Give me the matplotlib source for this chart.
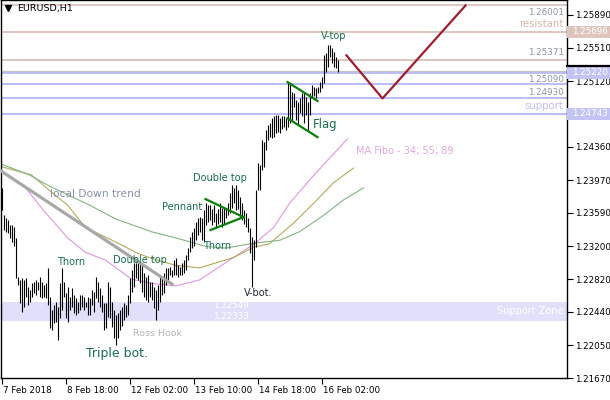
import matplotlib
matplotlib.use('Agg')
import matplotlib.pyplot as plt
from matplotlib.patches import Rectangle
from matplotlib.transforms import blended_transform_factory, ScaledTranslation

plt.rcParams['font.family'] = ['DejaVu Sans']

# hourly bars (high / low)
highs = [
    1.2388, 1.2356, 1.2353, 1.2351, 1.2345, 1.2345, 1.2342, 1.2330, 1.2284, 1.2281,
    1.2283, 1.2281, 1.2283, 1.2273, 1.2269, 1.2277, 1.2279, 1.2281, 1.2279, 1.2284,
    1.2279, 1.2275, 1.2277, 1.2295, 1.2261, 1.2246, 1.2252, 1.2255, 1.2249, 1.2277,
    1.2295, 1.2279, 1.2266, 1.2273, 1.2261, 1.2272, 1.2263, 1.2260, 1.2255, 1.2263,
    1.2263, 1.2261, 1.2255, 1.2261, 1.2260, 1.2269, 1.2267, 1.2284, 1.2279, 1.2272,
    1.2263, 1.2254, 1.2254, 1.2279, 1.2273, 1.2255, 1.2246, 1.2240, 1.2242, 1.2246,
    1.2249, 1.2254, 1.2252, 1.2263, 1.2283, 1.2292, 1.2301, 1.2301, 1.2302, 1.2301,
    1.2298, 1.2289, 1.2284, 1.2287, 1.2279, 1.2279, 1.2273, 1.2269, 1.2275, 1.2287,
    1.2284, 1.2289, 1.2295, 1.2295, 1.2296, 1.2292, 1.2304, 1.2306, 1.2298, 1.2296,
    1.2301, 1.2304, 1.2310, 1.2318, 1.2331, 1.2337, 1.2341, 1.2348, 1.2353, 1.2354,
    1.2353, 1.2362, 1.2370, 1.2368, 1.2368, 1.2364, 1.2368, 1.2359, 1.2364, 1.2370,
    1.2365, 1.2365, 1.2364, 1.2371, 1.2382, 1.2391, 1.2388, 1.2391, 1.2385, 1.2377,
    1.2370, 1.2362, 1.2359, 1.2353, 1.2341, 1.2331, 1.2327, 1.2385, 1.2417, 1.2415,
    1.2444, 1.2441, 1.2455, 1.2461, 1.2464, 1.2469, 1.2471, 1.2473, 1.2473, 1.2469,
    1.2471, 1.2471, 1.2469, 1.2511, 1.2510, 1.2499, 1.2498, 1.2490, 1.2488, 1.2492,
    1.2498, 1.2499, 1.2494, 1.2488, 1.2498, 1.2508, 1.2505, 1.2504, 1.2505, 1.2511,
    1.2517, 1.2542, 1.2545, 1.2554, 1.2554, 1.2551, 1.2546, 1.2540, 1.2537]
lows = [
    1.2362, 1.2339, 1.2337, 1.2335, 1.2330, 1.2325, 1.2321, 1.2283, 1.2275, 1.2254,
    1.2244, 1.2249, 1.2261, 1.2252, 1.2255, 1.2261, 1.2266, 1.2263, 1.2269, 1.2261,
    1.2260, 1.2261, 1.2260, 1.2252, 1.2225, 1.2223, 1.2231, 1.2232, 1.2211, 1.2237,
    1.2246, 1.2261, 1.2237, 1.2232, 1.2246, 1.2249, 1.2242, 1.2240, 1.2242, 1.2246,
    1.2249, 1.2246, 1.2249, 1.2240, 1.2240, 1.2252, 1.2244, 1.2260, 1.2255, 1.2249,
    1.2244, 1.2223, 1.2225, 1.2238, 1.2237, 1.2226, 1.2213, 1.2205, 1.2214, 1.2223,
    1.2228, 1.2234, 1.2238, 1.2240, 1.2254, 1.2267, 1.2273, 1.2283, 1.2281, 1.2277,
    1.2267, 1.2261, 1.2258, 1.2255, 1.2261, 1.2258, 1.2248, 1.2234, 1.2246, 1.2255,
    1.2263, 1.2266, 1.2275, 1.2279, 1.2287, 1.2284, 1.2287, 1.2287, 1.2284, 1.2287,
    1.2287, 1.2289, 1.2292, 1.2304, 1.2313, 1.2318, 1.2321, 1.2327, 1.2333, 1.2337,
    1.2327, 1.2325, 1.2345, 1.2348, 1.2351, 1.2345, 1.2348, 1.2342, 1.2346, 1.2348,
    1.2342, 1.2346, 1.2353, 1.2356, 1.2359, 1.2365, 1.2370, 1.2362, 1.2364, 1.2354,
    1.2351, 1.2346, 1.2342, 1.2337, 1.2312, 1.2273, 1.2304, 1.2319, 1.2385, 1.2385,
    1.2409, 1.2412, 1.2432, 1.2444, 1.2447, 1.2446, 1.2447, 1.2452, 1.2453, 1.2452,
    1.2457, 1.2459, 1.2455, 1.2459, 1.2463, 1.2467, 1.2482, 1.2467, 1.2461, 1.2475,
    1.2471, 1.2464, 1.2473, 1.2455, 1.2473, 1.2494, 1.2495, 1.2492, 1.2498, 1.2499,
    1.2504, 1.2510, 1.2523, 1.2528, 1.2540, 1.2533, 1.2528, 1.2527, 1.2523]

x_ticks = [0, 32, 64, 96, 128, 160]
x_labels = ['7 Feb 2018', '8 Feb 18:00', '12 Feb 02:00',
            '13 Feb 10:00', '14 Feb 18:00', '16 Feb 02:00']
y_ticks = [1.25890, 1.25510, 1.25120, 1.24360, 1.23970, 1.23590,
           1.23200, 1.22820, 1.22440, 1.22050, 1.21670]

# moving averages (34, 55, 89), sampled along the chart
ma34_i = [-0.5, 11, 21, 33, 42, 52, 65, 75, 87, 99, 116, 127, 136, 144, 154, 163, 173]
ma34_p = [1.2408, 1.2391, 1.2362, 1.2330, 1.2313, 1.2304, 1.2282, 1.2277, 1.2274,
          1.2281, 1.2307, 1.2324, 1.2342, 1.2370, 1.2397, 1.2420, 1.2445]
ma55_i = [-0.5, 15, 24, 33, 42, 58, 68, 75, 87, 99, 116, 126, 134, 146, 156, 166, 176]
ma55_p = [1.2413, 1.2403, 1.2385, 1.2368, 1.2342, 1.2324, 1.2312, 1.2306, 1.2298,
          1.2295, 1.2307, 1.2319, 1.2323, 1.2347, 1.2370, 1.2394, 1.2411]
ma89_i = [-0.5, 14, 24, 44, 57, 75, 87, 102, 112, 127, 139, 149, 161, 171, 181]
ma89_p = [1.2416, 1.2403, 1.2390, 1.2368, 1.2352, 1.2337, 1.2330, 1.2320, 1.2318,
          1.2324, 1.2327, 1.2337, 1.2356, 1.2374, 1.2388]

resist_levels = [1.26001, 1.25696, 1.25371]
support_levels = [1.25220, 1.25090, 1.24930, 1.24743]
zone_low, zone_high = 1.22333, 1.22549
ask_level = 1.2524

trend_i, trend_p = [-0.5, 86], [1.2408, 1.2275]
pennant_i = [[102, 121], [104.5, 121]]
pennant_p = [[1.2375, 1.2354], [1.2339, 1.2354]]
flag_i = [[143, 158], [143, 158]]
flag_p = [[1.2511, 1.2489], [1.2469, 1.2447]]
path_i = [172.5, 190.5, 232]
path_p = [1.2542, 1.2492, 1.2600]

PATTERN = '#176e4a'
FS = 6.3

fig = plt.figure(figsize=(6.1, 4.0), dpi=100)
ax = fig.add_axes([0.5 / 610, 22 / 400, 566 / 610, 378 / 400])
ax.set_xlim(-0.5, 282.5)
ax.set_ylim(1.21670, 1.26064)
blend = blended_transform_factory(ax.transAxes, ax.transData)

# levels and zone
ax.axhspan(zone_low, zone_high, color='#e0e0fa', lw=0, zorder=0)
for lv in resist_levels:
    ax.axhline(lv, color='#dcc8c2', lw=1.4, zorder=1)
for lv in support_levels:
    ax.axhline(lv, color='#bcbcf6', lw=1.4, zorder=1)
ax.axhline(ask_level, color='#c4c4c4', lw=0.9, zorder=1)

# bars
idx = list(range(len(highs)))
ax.vlines(idx, lows, highs, color='black', lw=0.8, zorder=3)

# moving averages
ax.plot(ma34_i, ma34_p, color='#e196e1', lw=0.8, zorder=2)
ax.plot(ma55_i, ma55_p, color='#b4aa5a', lw=0.8, zorder=2)
ax.plot(ma89_i, ma89_p, color='#82b482', lw=0.8, zorder=2)

# drawn objects
ax.plot(trend_i, trend_p, color='#a8a8a8', lw=2.3, zorder=4, solid_capstyle='butt')
for xs, ys in zip(pennant_i + flag_i, pennant_p + flag_p):
    ax.plot(xs, ys, color='#0a800a', lw=1.6, zorder=5)
ax.plot(path_i, path_p, color='#a01e2c', lw=1.6, zorder=5)

# pattern labels
def label(i, p, txt, size=7, color=PATTERN, ha='center'):
    ax.text(i, p, txt, fontsize=size, color=color, ha=ha, va='center', zorder=6)

label(35, 1.2302, 'Thorn')
label(69, 1.2304, 'Double top')
label(57.5, 1.2195, 'Triple bot.', size=9)
label(78, 1.2219, 'Ross Hook', size=6.8, color='#b4b4b4')
label(128.5, 1.2266, 'V-bot.', color='#1c2c38')
label(108, 1.2320, 'Thorn')
label(90.5, 1.2366, 'Pennant')
label(109, 1.2399, 'Double top')
label(166, 1.2565, 'V-top')
label(162, 1.2462, 'Flag', size=8.4)
label(177, 1.2431, 'MA Fibo - 34; 55; 89', color='#e0a8e0', ha='left')
label(24, 1.2381, 'local Down trend', size=7.7, color='#8890ac', ha='left')
label(106, 1.2251, '1.22549', size=FS, color='white', ha='left')
label(106, 1.2238, '1.22333', size=FS, color='white', ha='left')
ax.text(0.995, 1.2245, 'Support Zone', transform=blend, fontsize=7,
        color='white', ha='right', va='center', zorder=6)

# right side descriptions of the levels
right_notes = [(1.2592, '1.26001', '#8a96a4', FS), (1.2578, 'resistant', '#d6b6a8', 7.3),
               (1.2545, '1.25371', '#8a96a4', FS), (1.2514, '1.25090', '#8a96a4', FS),
               (1.2499, '1.24930', '#8a96a4', FS), (1.2483, 'support', '#c0c0f0', 7.3)]
for p, txt, col, size in right_notes:
    ax.text(0.995, p, txt, transform=blend, fontsize=size, color=col,
            ha='right', va='center', zorder=6)

# axes and ticks
for sp in ax.spines.values():
    sp.set_color('black')
    sp.set_linewidth(1.0)
ax.yaxis.tick_right()
ax.set_yticks(y_ticks)
ax.set_yticklabels(['%.5f' % v for v in y_ticks])
ax.set_xticks(x_ticks)
ax.set_xticklabels(x_labels, ha='left')
ax.tick_params(axis='both', direction='out', length=4, width=0.8,
               labelsize=FS, pad=2, colors='black')
shift = ScaledTranslation(1.5 / 100, 0, fig.dpi_scale_trans)
for t in ax.get_xticklabels():
    t.set_transform(t.get_transform() + shift)

# price tags on the scale
def tag(p, color):
    ax.add_patch(Rectangle((1.0015, p - 0.00070), 44 / 566, 0.00140, transform=blend,
                           facecolor=color, edgecolor='none', clip_on=False, zorder=7))
    ax.text(1.0 + 6 / 566, p, '%.5f' % p, transform=blend, fontsize=FS,
            color='white', va='center', ha='left', clip_on=False, zorder=8)

tag(1.25696, '#dec6bf')
tag(1.25220, '#c4c4f4')
tag(1.24743, '#c4c4f4')
ax.plot([1.0, 1.08], [1.2530, 1.2530], transform=blend, color='black', lw=1.6,
        clip_on=False, zorder=8)

# symbol header
ax.plot([7 / 566], [1 - 8 / 378], transform=ax.transAxes, marker='v', color='black',
        markersize=4, zorder=8)
ax.text(17 / 566, 1 - 8 / 378, 'EURUSD,H1', transform=ax.transAxes, fontsize=6.8,
        va='center', ha='left', zorder=8)

fig.savefig('out.png', dpi=100)
